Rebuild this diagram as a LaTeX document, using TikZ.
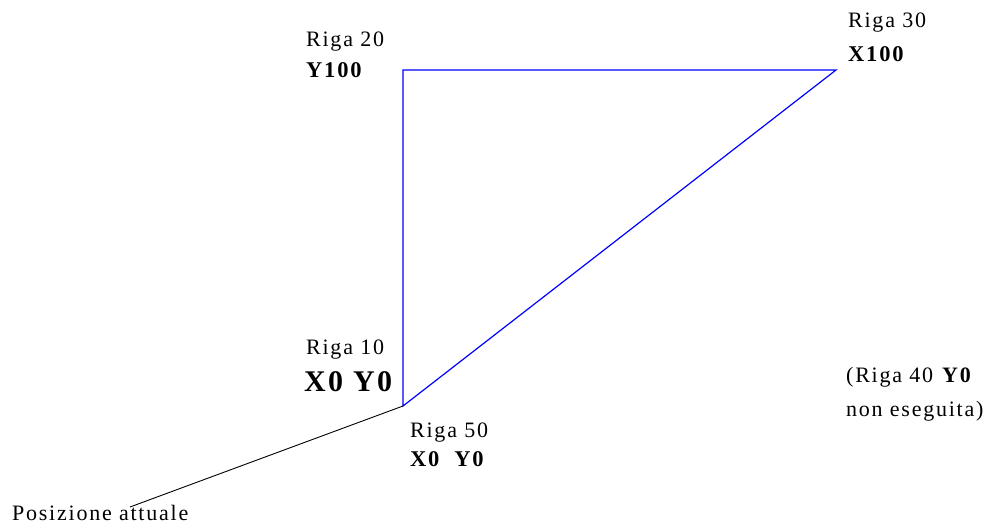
\documentclass[tikz,border=0pt]{standalone}
\usepackage{fontspec}
\setmainfont{Liberation Serif}[LetterSpace=8]
\usepackage{tikz}
\usetikzlibrary{positioning}

\begin{document}
\begin{tikzpicture}[x=1pt, y=-1pt,
    rigalabel/.style={anchor=base west, inner sep=0pt, font=\fontsize{22}{24}\selectfont},
    cmdlabel/.style={anchor=base west, inner sep=0pt, font=\fontsize{22.5}{24}\selectfont\bfseries},
    bigcmd/.style={anchor=base west, inner sep=0pt, font=\fontsize{30}{32}\selectfont\bfseries},
    path/.style={draw=blue, line width=1.2pt},
    line/.style={draw=black, line width=0.9pt}]

    \useasboundingbox (0,0) rectangle (994,526);

    % vertices of the path
    \coordinate (origin) at (403,406);
    \coordinate (top) at (403,70);
    \coordinate (corner) at (836,70);
    \coordinate (tip) at (130,507);

    \path [path] (origin) -- (top) -- (corner) -- cycle;

    \node [rigalabel] (r20) at (306,47) {Riga 20};
    \node [cmdlabel] (y100) at (306,78) {Y100};
    \node [rigalabel] (r30) at (848,28) {Riga 30};
    \node [cmdlabel] (x100) at (848,62) {X100};
    \node [rigalabel] (r10) at (306,355) {Riga 10};
    \node [bigcmd] (start) at (304,392) {X0 Y0};
    \node [rigalabel] (r50) at (410,438) {Riga 50};
    \node [cmdlabel] (back) at (410,467) {X0\ \ Y0};
    \node [rigalabel] (r40) at (846,383) {(Riga 40 \textbf{Y0}};
    \node [rigalabel] (skip) at (846,417) {non eseguita)};
    \node [rigalabel] (pos) at (12,521) {Posizione attuale};

    \path [line] (origin) -- (tip);
\end{tikzpicture}
\end{document}
